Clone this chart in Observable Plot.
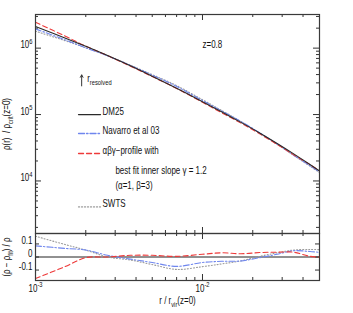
<!DOCTYPE html>
<html><head><meta charset="utf-8">
<script src="https://cdn.jsdelivr.net/npm/d3@7"></script>
<script src="https://cdn.jsdelivr.net/npm/@observablehq/plot@0.6"></script>
<style>
body{margin:0;background:#fff;}
#wrap{position:relative;width:353px;height:313px;overflow:hidden;background:#fff;}
#wrap svg{position:absolute;left:0;}
</style></head><body><div id="wrap"></div>
<script>
// ---- data ----
const radius = [0.001, 0.0015, 0.002, 0.0027, 0.0037, 0.005, 0.007, 0.01, 0.013, 0.017, 0.022, 0.028, 0.035, 0.044, 0.05];
const logRhoDM25    = [6.326, 6.154, 6.027, 5.888, 5.733, 5.577, 5.395, 5.194, 5.041, 4.882, 4.723, 4.565, 4.412, 4.248, 4.153];
const logRhoNavarro = [6.290, 6.126, 6.005, 5.884, 5.740, 5.594, 5.424, 5.211, 5.055, 4.895, 4.725, 4.556, 4.392, 4.230, 4.138];
const logRhoABG     = [6.389, 6.183, 6.029, 5.888, 5.728, 5.572, 5.393, 5.185, 5.028, 4.871, 4.709, 4.550, 4.397, 4.246, 4.153];
const logRhoSWTS    = [6.255, 6.113, 6.005, 5.888, 5.743, 5.601, 5.436, 5.223, 5.062, 4.894, 4.721, 4.552, 4.390, 4.223, 4.129];
const resNavarro = [0.085, 0.066, 0.053, 0.013, -0.016, -0.042, -0.072, -0.042, -0.033, -0.03, -0.005, 0.021, 0.048, 0.042, 0.036];
const resABG     = [-0.165, -0.074, -0.005, 0.0, 0.013, 0.013, 0.005, 0.021, 0.032, 0.025, 0.034, 0.037, 0.037, 0.005, 0.0];
const resSWTS    = [0.159, 0.096, 0.053, 0.0, -0.023, -0.058, -0.095, -0.074, -0.053, -0.03, 0.005, 0.032, 0.053, 0.058, 0.056];

const xMajorTicks = [0.001, 0.01];
const xTickLabels = ["10^{-3}", "10^{-2}"];
const xMinorTicks = [0.002, 0.003, 0.004, 0.005, 0.006, 0.007, 0.008, 0.009, 0.02, 0.03, 0.04];
const yMajorTicks = [1e4, 1e5, 1e6];
const yTickLabels = ["10^{4}", "10^{5}", "10^{6}"];
const yMinorTicks = [2e3,3e3,4e3,5e3,6e3,7e3,8e3,9e3,2e4,3e4,4e4,5e4,6e4,7e4,8e4,9e4,2e5,3e5,4e5,5e5,6e5,7e5,8e5,9e5,2e6,3e6];
const resTicks = [-0.1, 0, 0.1];
const resTickLabels = ["-0.1", "0", "0.1"];

const seriesNames = ["DM25", "Navarro et al 03", "αβγ−profile with", "SWTS"];
const noteTexts = ["best fit inner slope γ = 1.2", "(α=1, β=3)"];
const zLabel = "z=0.8";
const resolvedLabel = "r_{resolved}";
const xTitle = "r / r_{vir}(z=0)";
const yTitle = "ρ(r)  / ρ_{crit}(z=0)";
const resTitle = "(ρ − ρ_{fit}) / ρ";

// ---- tables ----
const toRows = (logs, res) => radius.map((r, i) => ({r, rho: Math.pow(10, logs[i]), res: res ? res[i] : 0}));
const rowsDM = toRows(logRhoDM25);
const rowsNav = toRows(logRhoNavarro, resNavarro);
const rowsABG = toRows(logRhoABG, resABG);
const rowsSW = toRows(logRhoSWTS, resSWTS);

const styles = [
  {stroke: "#2a2a2a", strokeDasharray: null},
  {stroke: "#6f86ee", strokeDasharray: "6,2,1.5,2"},
  {stroke: "#ee3a3a", strokeDasharray: "5,3"},
  {stroke: "#9a9a9a", strokeDasharray: "1,2"}
];

const FONT = '"Liberation Sans", Arial, sans-serif';
const xDomain = [0.001, 0.0502];
const W = 353, ML = 35, MR = 34;

// ---- main panel ----
const mainH = 238, mainMT = 14, mainMB = 5;
const mainPH = mainH - mainMT - mainMB;
const mainPW = W - ML - MR;
const legendX = [0.00181, 0.00245];
const legendY = [1e5, 5.18e4, 2.59e4, 4.06e3];

const main = Plot.plot({
  width: W, height: mainH,
  marginLeft: ML, marginRight: MR, marginTop: mainMT, marginBottom: mainMB,
  style: {fontFamily: FONT, fontSize: "10px", background: "none", overflow: "visible", color: "#111"},
  x: {type: "log", domain: xDomain, axis: null},
  y: {type: "log", domain: [1618, 3.21e6], axis: null},
  marks: [
    Plot.axisY({ticks: yMajorTicks, label: null, tickSize: 0, tickPadding: 3, tickFormat: d => yTickLabels[yMajorTicks.indexOf(d)]}),
    Plot.tickX(xMinorTicks, {x: d => d, insetTop: mainPH - 3, stroke: "#333"}),
    Plot.tickX(xMinorTicks, {x: d => d, insetBottom: mainPH - 3, stroke: "#333"}),
    Plot.tickX(xMajorTicks, {x: d => d, insetTop: mainPH - 6, stroke: "#333"}),
    Plot.tickX(xMajorTicks, {x: d => d, insetBottom: mainPH - 6, stroke: "#333"}),
    Plot.tickY(yMinorTicks, {y: d => d, insetRight: mainPW - 3, stroke: "#333"}),
    Plot.tickY(yMinorTicks, {y: d => d, insetLeft: mainPW - 3, stroke: "#333"}),
    Plot.tickY(yMajorTicks, {y: d => d, insetRight: mainPW - 6, stroke: "#333"}),
    Plot.tickY(yMajorTicks, {y: d => d, insetLeft: mainPW - 6, stroke: "#333"}),
    Plot.line(rowsSW, {x: "r", y: "rho", curve: "catmull-rom", strokeWidth: 1.1, ...styles[3]}),
    Plot.line(rowsNav, {x: "r", y: "rho", curve: "catmull-rom", strokeWidth: 1.1, ...styles[1]}),
    Plot.line(rowsABG, {x: "r", y: "rho", curve: "catmull-rom", strokeWidth: 1.1, ...styles[2]}),
    Plot.line(rowsDM, {x: "r", y: "rho", curve: "catmull-rom", strokeWidth: 1.1, ...styles[0]}),
    // legend samples and labels
    ...seriesNames.map((name, i) => Plot.line(legendX.map(x => ({x, y: legendY[i]})), {x: "x", y: "y", strokeWidth: 1.3, ...styles[i]})),
    Plot.text(seriesNames, {x: () => 0.00252, y: (d, i) => legendY[i], text: d => d, textAnchor: "start", fill: "#111"}),
    Plot.text(noteTexts, {x: () => 0.00301, y: (d, i) => [1.26e4, 7.7e3][i], text: d => d, textAnchor: "start", fill: "#111"}),
    Plot.text([zLabel], {x: () => 0.01, y: () => 1e6, text: d => d, textAnchor: "start", fill: "#111"}),
    Plot.arrow([0], {x1: () => 0.00189, x2: () => 0.00189, y1: () => 2.7e5, y2: () => 3.95e5, stroke: "#333", strokeWidth: 1, headLength: 4, insetEnd: 0}),
    Plot.text([resolvedLabel], {x: () => 0.00204, y: () => 3.1e5, text: d => d, textAnchor: "start", fill: "#111"}),
    Plot.text([yTitle], {frameAnchor: "left", rotate: -90, dx: -26, textAnchor: "middle", lineAnchor: "middle", text: d => d, fill: "#111"}),
    Plot.frame({stroke: "#3a3a3a", strokeWidth: 1.2})
  ]
});
main.style.top = "0px";

// ---- residual panel ----
const resH = 85, resMT = 5, resMB = 33;
const resPH = resH - resMT - resMB;
const resP = Plot.plot({
  width: W, height: resH,
  marginLeft: ML, marginRight: MR, marginTop: resMT, marginBottom: resMB,
  style: {fontFamily: FONT, fontSize: "10px", background: "none", overflow: "visible", color: "#111"},
  x: {type: "log", domain: xDomain, axis: null},
  y: {domain: [-0.18, 0.18], axis: null},
  marks: [
    Plot.axisY({ticks: resTicks, label: null, tickSize: 0, tickPadding: 3, tickFormat: d => resTickLabels[resTicks.indexOf(d)]}),
    Plot.axisX({ticks: xMajorTicks, label: null, tickSize: 0, tickPadding: 11, tickFormat: d => xTickLabels[xMajorTicks.indexOf(d)]}),
    Plot.tickX(xMinorTicks, {x: d => d, insetTop: resPH - 3, stroke: "#333"}),
    Plot.tickX(xMinorTicks, {x: d => d, insetBottom: resPH - 3, stroke: "#333"}),
    Plot.tickX(xMajorTicks, {x: d => d, insetTop: resPH - 6, stroke: "#333"}),
    Plot.tickX(xMajorTicks, {x: d => d, insetBottom: resPH - 6, stroke: "#333"}),
    Plot.tickY(resTicks, {y: d => d, insetRight: mainPW - 4, stroke: "#333"}),
    Plot.tickY(resTicks, {y: d => d, insetLeft: mainPW - 4, stroke: "#333"}),
    Plot.ruleY([0], {stroke: "#222", strokeWidth: 1}),
    Plot.line(rowsSW, {x: "r", y: "res", curve: "catmull-rom", strokeWidth: 1.1, ...styles[3]}),
    Plot.line(rowsNav, {x: "r", y: "res", curve: "catmull-rom", strokeWidth: 1.1, ...styles[1]}),
    Plot.line(rowsABG, {x: "r", y: "res", curve: "catmull-rom", strokeWidth: 1.1, ...styles[2]}),
    Plot.text([resTitle], {frameAnchor: "left", rotate: -90, dx: -26, textAnchor: "middle", lineAnchor: "middle", text: d => d, fill: "#111"}),
    Plot.text([xTitle], {frameAnchor: "bottom", dy: 23, lineAnchor: "middle", textAnchor: "middle", text: d => d, fill: "#111"}),
    Plot.frame({stroke: "#3a3a3a", strokeWidth: 1.2})
  ]
});
resP.style.top = (233 - resMT) + "px";

const wrap = document.getElementById("wrap");
wrap.appendChild(main);
wrap.appendChild(resP);

// superscript / subscript markup -> tspans
function richify(svg) {
  svg.querySelectorAll("text").forEach(el => {
    const s = el.textContent;
    if (!/[\^_]\{/.test(s)) return;
    const fs = parseFloat(getComputedStyle(el).fontSize) || 10;
    while (el.firstChild) el.removeChild(el.firstChild);
    let cur = 0, last = 0, m;
    const re = /([\^_])\{([^}]*)\}/g;
    const add = (txt, off, small) => {
      const t = document.createElementNS("http://www.w3.org/2000/svg", "tspan");
      t.textContent = txt;
      if (off !== cur) t.setAttribute("dy", (off - cur).toFixed(2));
      if (small) t.style.fontSize = (fs * 0.72).toFixed(2) + "px";
      el.appendChild(t); cur = off;
    };
    while ((m = re.exec(s))) {
      if (m.index > last) add(s.slice(last, m.index), 0, false);
      add(m[2], m[1] === "^" ? -0.42 * fs : 0.32 * fs, true);
      last = re.lastIndex;
    }
    if (last < s.length) add(s.slice(last), 0, false);
  });
}
// narrow the glyphs horizontally, like the reference's condensed lettering
function condense(svg, k) {
  svg.querySelectorAll("text").forEach(el => {
    const x = +el.getAttribute("x") || 0, y = +el.getAttribute("y") || 0;
    el.removeAttribute("x"); el.removeAttribute("y");
    const t = el.getAttribute("transform") || "";
    el.setAttribute("transform", `${t} translate(${x},${y}) scale(${k},1)`);
  });
}
richify(main); richify(resP);
condense(main, 0.8); condense(resP, 0.8);
</script>
</body></html>
